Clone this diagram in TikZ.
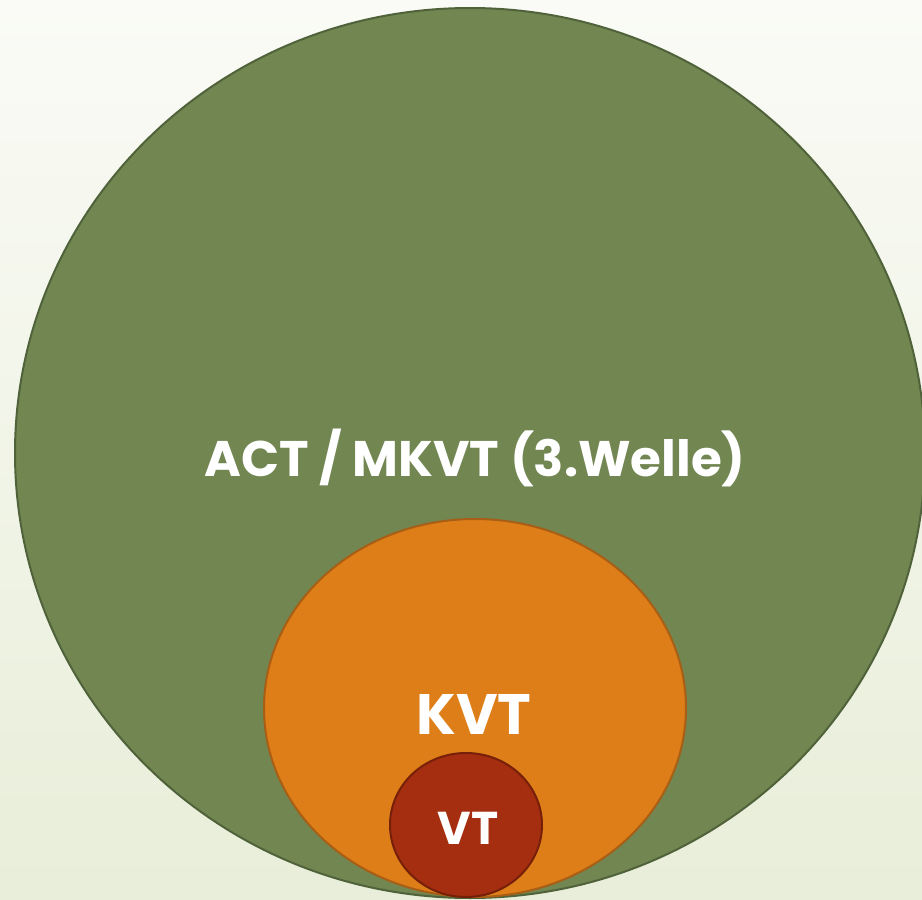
\documentclass[tikz,border=0pt]{standalone}
\usepackage{fontspec}
\setmainfont{Poppins}
\usetikzlibrary{shapes.geometric}
\definecolor{bgtop}{RGB}{250,251,246}
\definecolor{bgbottom}{RGB}{232,238,217}
\definecolor{actgreen}{RGB}{114,134,82}
\definecolor{actline}{RGB}{80,98,58}
\definecolor{kvtorange}{RGB}{222,126,24}
\definecolor{kvtline}{RGB}{168,94,20}
\definecolor{vtred}{RGB}{165,45,16}
\definecolor{vtline}{RGB}{118,32,10}

\tikzset{
    circlebox/.style={ellipse, draw, line width=2pt, inner sep=0pt},
    circletext/.style={text=white, font=\bfseries}
}

\begin{document}
\begin{tikzpicture}[x=1pt, y=-1pt]
    \useasboundingbox (0, 0) rectangle (922, 900);
    \shade[top color=bgtop, bottom color=bgbottom] (0, 0) rectangle (922, 900);

    % Circles
    \node[circlebox, draw=actline, fill=actgreen, minimum width=910pt, minimum height=890pt] (act) at (470, 453) {};
    \node[circlebox, draw=kvtline, fill=kvtorange, minimum width=422pt, minimum height=378pt] (kvt) at (475, 708) {};
    \node[circlebox, draw=vtline, fill=vtred, minimum width=152pt, minimum height=144pt] (vt) at (466, 825) {};

    % Labels
    \node[circletext, font=\bfseries\fontsize{50}{50}\selectfont] (acttext) at (475, 458) {ACT / MKVT (3.Welle)};
    \node[circletext, font=\bfseries\fontsize{57}{57}\selectfont] (kvttext) at (474, 714) {KVT};
    \node[circletext, font=\bfseries\fontsize{46}{46}\selectfont] (vttext) at (468, 828) {VT};
\end{tikzpicture}
\end{document}
